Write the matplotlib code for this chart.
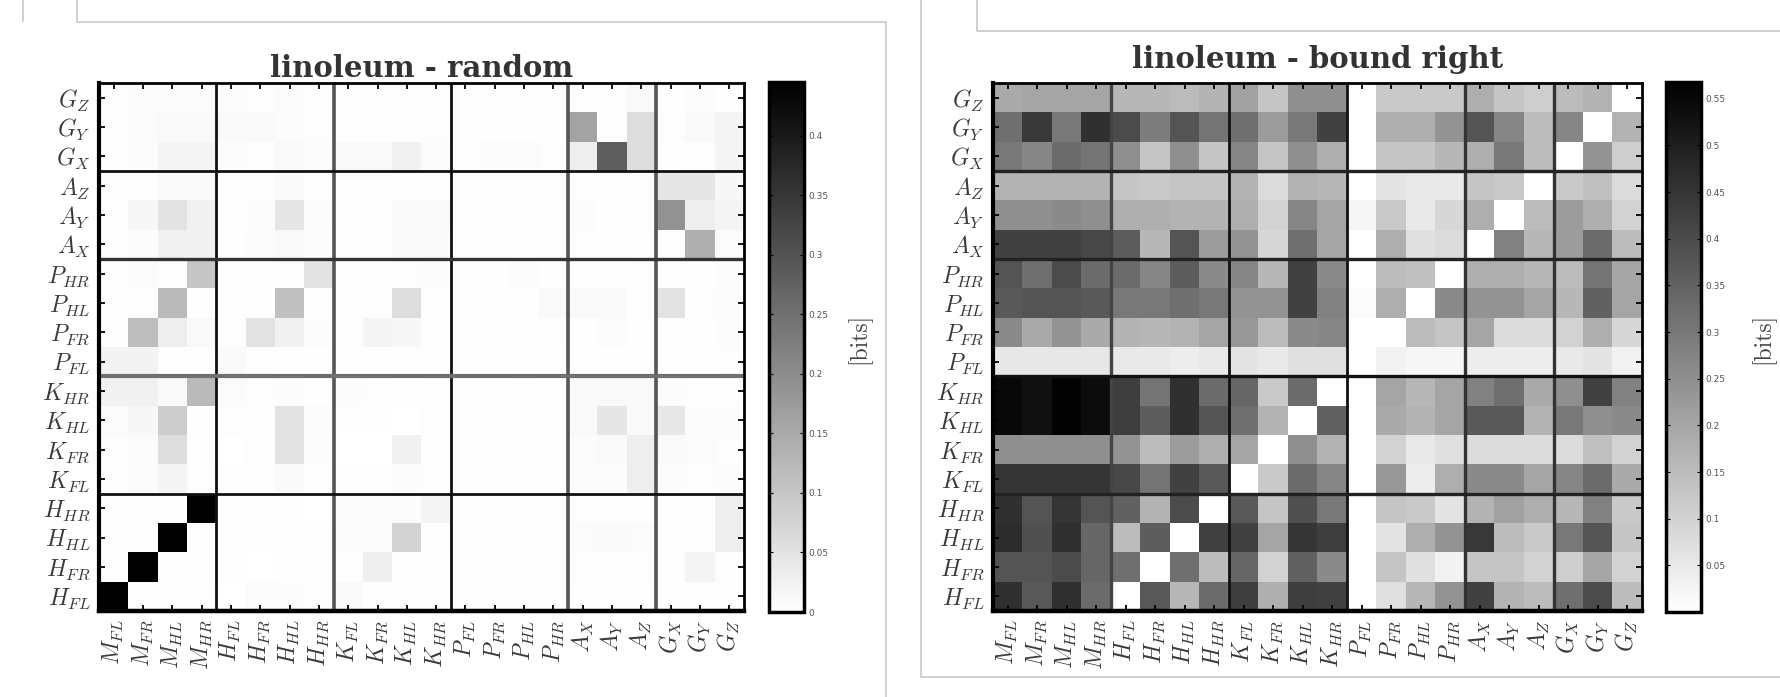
import matplotlib
matplotlib.use("Agg")
import matplotlib.pyplot as plt
from matplotlib.lines import Line2D
import numpy as np

plt.rcParams['mathtext.fontset'] = 'cm'

COL_LABELS = ["M_{FL}", "M_{FR}", "M_{HL}", "M_{HR}", "H_{FL}", "H_{FR}", "H_{HL}", "H_{HR}",
              "K_{FL}", "K_{FR}", "K_{HL}", "K_{HR}", "P_{FL}", "P_{FR}", "P_{HL}", "P_{HR}",
              "A_X", "A_Y", "A_Z", "G_X", "G_Y", "G_Z"]
ROW_LABELS = ["G_Z", "G_Y", "G_X", "A_Z", "A_Y", "A_X", "P_{HR}", "P_{HL}", "P_{FR}", "P_{FL}",
              "K_{HR}", "K_{HL}", "K_{FR}", "K_{FL}", "H_{HR}", "H_{HL}", "H_{FR}", "H_{FL}"]

# linoleum - random  (rows top to bottom)
RANDOM = [
    [.005,.006,.006,.006,.006,.005,.008,.005,.004,.004,.004,.004,.002,.002,.002,.002,.004,.004,.012,.003,.008,.003],
    [.004,.008,.012,.012,.012,.012,.006,.004,.004,.004,.004,.004,.002,.002,.002,.002,.160,.004,.060,.004,.012,.020],
    [.004,.006,.020,.020,.006,.004,.012,.008,.012,.012,.025,.008,.002,.008,.008,.004,.030,.280,.060,.003,.004,.020],
    [.003,.004,.012,.012,.002,.002,.010,.004,.002,.002,.004,.004,.002,.002,.002,.002,.004,.003,.005,.045,.045,.015],
    [.004,.015,.050,.025,.004,.006,.045,.008,.002,.002,.012,.012,.002,.002,.002,.002,.006,.002,.005,.190,.030,.020],
    [.004,.006,.025,.025,.003,.006,.012,.006,.002,.003,.010,.010,.002,.002,.002,.002,.005,.004,.003,.002,.140,.008],
    [.003,.006,.003,.100,.002,.002,.004,.050,.002,.002,.004,.006,.002,.002,.006,.002,.003,.003,.004,.002,.003,.006],
    [.004,.004,.120,.002,.003,.003,.110,.002,.002,.002,.060,.002,.002,.002,.002,.012,.012,.012,.004,.050,.004,.006],
    [.003,.115,.030,.012,.004,.050,.025,.006,.004,.020,.015,.002,.002,.002,.002,.004,.003,.008,.003,.003,.003,.006],
    [.022,.022,.002,.002,.010,.004,.002,.002,.002,.002,.002,.002,.002,.002,.002,.002,.003,.002,.002,.002,.002,.004],
    [.025,.025,.012,.120,.008,.004,.006,.003,.006,.004,.002,.004,.003,.003,.004,.003,.012,.012,.012,.006,.004,.004],
    [.008,.015,.090,.003,.004,.003,.050,.008,.003,.003,.000,.004,.002,.004,.004,.002,.012,.045,.012,.040,.006,.006],
    [.005,.008,.060,.003,.001,.004,.050,.006,.001,.000,.025,.004,.002,.003,.003,.002,.008,.012,.030,.010,.008,.004],
    [.005,.008,.020,.004,.002,.003,.010,.005,.002,.002,.006,.005,.002,.002,.002,.003,.006,.006,.030,.006,.004,.006],
    [.003,.003,.003,.445,.003,.002,.002,.001,.006,.006,.006,.020,.002,.002,.002,.002,.004,.004,.002,.002,.002,.030],
    [.003,.003,.445,.002,.002,.002,.004,.002,.006,.006,.075,.004,.002,.002,.002,.002,.008,.010,.008,.002,.002,.030],
    [.002,.445,.004,.002,.002,.001,.003,.002,.004,.030,.004,.002,.002,.002,.002,.002,.004,.004,.004,.002,.020,.004],
    [.445,.004,.004,.004,.001,.006,.006,.004,.012,.004,.004,.002,.002,.002,.002,.002,.002,.002,.002,.002,.002,.004],
]
# linoleum - bound right  (rows top to bottom)
BOUND = [
    [.190,.200,.200,.200,.160,.160,.150,.170,.210,.130,.250,.250,.000,.120,.120,.120,.180,.130,.110,.150,.170,.000],
    [.320,.440,.300,.460,.400,.290,.380,.310,.320,.220,.300,.420,.000,.180,.180,.240,.380,.270,.150,.270,.000,.170],
    [.300,.270,.330,.310,.250,.130,.250,.130,.270,.130,.250,.180,.000,.130,.130,.160,.180,.300,.150,.000,.240,.110],
    [.170,.170,.170,.170,.130,.120,.130,.130,.170,.080,.170,.160,.000,.060,.050,.050,.130,.120,.000,.120,.140,.080],
    [.250,.250,.260,.250,.180,.180,.170,.170,.180,.100,.270,.200,.020,.120,.050,.090,.180,.000,.150,.220,.180,.100],
    [.420,.420,.420,.410,.360,.160,.380,.220,.240,.090,.320,.200,.000,.180,.070,.080,.000,.280,.160,.220,.330,.150],
    [.380,.320,.400,.330,.330,.270,.360,.260,.270,.160,.420,.260,.000,.150,.140,.000,.180,.180,.160,.150,.310,.200],
    [.370,.380,.380,.370,.300,.300,.320,.300,.240,.240,.420,.280,.010,.180,.000,.260,.240,.240,.200,.160,.350,.200],
    [.260,.190,.240,.190,.170,.160,.170,.200,.230,.150,.260,.270,.000,.000,.150,.130,.200,.080,.080,.100,.180,.090],
    [.055,.055,.055,.055,.050,.050,.040,.050,.060,.050,.070,.070,.000,.030,.020,.020,.040,.040,.040,.050,.060,.030],
    [.550,.530,.560,.540,.430,.310,.460,.330,.340,.120,.330,.000,.000,.200,.160,.200,.280,.320,.190,.250,.420,.280],
    [.550,.530,.560,.540,.430,.360,.460,.380,.320,.170,.000,.350,.000,.190,.170,.200,.370,.370,.170,.300,.250,.260],
    [.250,.250,.250,.250,.240,.150,.220,.180,.200,.000,.250,.170,.000,.100,.050,.070,.080,.080,.080,.080,.140,.100],
    [.450,.450,.450,.450,.410,.310,.420,.370,.000,.120,.330,.270,.000,.230,.040,.180,.260,.260,.200,.270,.330,.190],
    [.460,.380,.450,.380,.350,.170,.400,.000,.370,.130,.390,.300,.000,.130,.120,.060,.170,.210,.180,.160,.280,.120],
    [.470,.390,.460,.340,.150,.360,.000,.420,.420,.200,.450,.430,.000,.060,.180,.240,.440,.150,.120,.300,.380,.130],
    [.380,.380,.400,.340,.320,.000,.320,.150,.340,.100,.350,.260,.000,.130,.070,.030,.130,.130,.100,.110,.200,.100],
    [.460,.370,.460,.330,.000,.370,.160,.330,.430,.180,.430,.420,.000,.070,.160,.240,.420,.170,.150,.320,.400,.150],
]
COL_GROUPS = [4, 8, 12, 16, 19]
ROW_GROUPS = [3, 6, 10, 14]
RANDOM_TICKS = [0, .05, .1, .15, .2, .25, .3, .35, .4]
BOUND_TICKS = [.05, .1, .15, .2, .25, .3, .35, .4, .45, .5, .55]

W, H = 1780, 697
fig = plt.figure(figsize=(W / 100, H / 100), dpi=100)


def box(x0, y0, x1, y1):
    return [x0 / W, 1 - y1 / H, (x1 - x0) / W, (y1 - y0) / H]


def panel(data, title, vmax, ticks, ax_box, cb_box, vstyle, hstyle, label_x, title_y):
    ax = fig.add_axes(box(*ax_box))
    im = ax.imshow(np.array(data), cmap="gray_r", vmin=0, vmax=vmax, aspect="auto",
                   interpolation="nearest")
    ax.set_xticks(range(len(COL_LABELS)))
    ax.set_xticklabels(["$" + s + "$" for s in COL_LABELS], rotation=90, fontsize=17, color="#3a3a3a")
    ax.set_yticks(range(len(ROW_LABELS)))
    ax.set_yticklabels(["$" + s + "$" for s in ROW_LABELS], fontsize=17, color="#3a3a3a")
    ax.tick_params(direction="in", length=4, width=1.3, top=True, right=True, pad=6)
    for pos, (c, lw) in zip(COL_GROUPS, vstyle):
        ax.axvline(pos - .5, color=c, lw=lw)
    for pos, (c, lw) in zip(ROW_GROUPS, hstyle):
        ax.axhline(pos - .5, color=c, lw=lw)
    for s, lw in zip(["left", "bottom", "top", "right"], [3, 3.2, 2, 2]):
        ax.spines[s].set_linewidth(lw)
    fig.text((ax_box[0] + ax_box[2]) / 2 / W, 1 - title_y / H, title, family="DejaVu Serif",
             weight="bold", fontsize=21, ha="center", va="baseline", color="#333333")

    cax = fig.add_axes(box(*cb_box))
    cb = fig.colorbar(im, cax=cax, ticks=ticks)
    cb.ax.set_yticklabels([f"{t:g}" for t in ticks], fontsize=6.5, color="#555555")
    cb.ax.tick_params(direction="in", length=3, width=.8, left=True, right=True, pad=3)
    cb.outline.set_linewidth(2.5)
    fig.text(label_x / W, 1 - 338 / H, "[bits]", family="cmr10", fontsize=17, rotation=90,
             ha="center", va="center", color="#444444")


panel(RANDOM, "linoleum - random", .445, RANDOM_TICKS, (99, 83, 744, 611), (769, 82, 804, 612),
      [("#111111", 2), ("#555555", 2.6), ("#111111", 2), ("#555555", 2.6), ("#555555", 2.6)],
      [("#111111", 2), ("#333333", 2.4), ("#707070", 3), ("#111111", 2)], 859, 77)
panel(BOUND, "linoleum - bound right", .568, BOUND_TICKS, (993, 83, 1642, 611), (1666, 82, 1701, 612),
      [("#444444", 2.4), ("#111111", 2), ("#111111", 2), ("#333333", 2.4), ("#333333", 2.4)],
      [("#222222", 2.4), ("#222222", 2.4), ("#111111", 2.4), ("#222222", 2.4)], 1763, 68)

# background frame lines
FRAME = [[(23, 0), (23, 21)], [(77, 0), (77, 22), (886, 22), (886, 697)],
         [(977, 0), (977, 31), (1780, 31)], [(921, 0), (921, 677), (1780, 677)]]
for seg in FRAME:
    xs, ys = zip(*seg)
    fig.add_artist(Line2D(np.array(xs) / W, 1 - np.array(ys) / H, color="#c8c8c8", lw=1.2))

fig.savefig("out.png", dpi=100)
